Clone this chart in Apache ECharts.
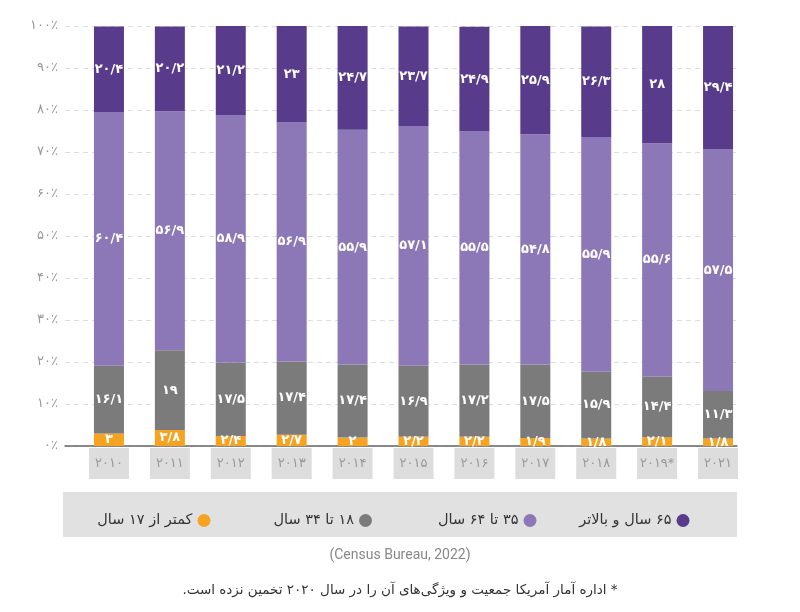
<!DOCTYPE html>
<html>
<head>
<meta charset="utf-8">
<script src="https://cdn.jsdelivr.net/npm/echarts@6/dist/echarts.min.js"></script>
<style>html,body{margin:0;padding:0;background:#fff}#c{width:800px;height:612px}</style>
</head>
<body>
<div id="c"></div>
<script>
var years = ['۲۰۱۰','۲۰۱۱','۲۰۱۲','۲۰۱۳','۲۰۱۴','۲۰۱۵','۲۰۱۶','۲۰۱۷','۲۰۱۸','۲۰۱۹*','۲۰۲۱'];
var seriesNames = ['کمتر از ۱۷ سال','۱۸ تا ۳۴ سال','۳۵ تا ۶۴ سال','۶۵ سال و بالاتر'];
var under17 = [3, 3.8, 2.4, 2.7, 2, 2.2, 2.2, 1.9, 1.8, 2.1, 1.8];
var age18to34 = [16.1, 19, 17.5, 17.4, 17.4, 16.9, 17.2, 17.5, 15.9, 14.4, 11.3];
var age35to64 = [60.4, 56.9, 58.9, 56.9, 55.9, 57.1, 55.5, 54.8, 55.9, 55.6, 57.5];
var age65plus = [20.4, 20.2, 21.2, 23, 24.7, 23.7, 24.9, 25.9, 26.3, 28, 29.4];
var yTicks = [0, 10, 20, 30, 40, 50, 60, 70, 80, 90, 100];
var sourceText = '(Census Bureau, 2022)';
var noteText = '* اداره آمار آمریکا جمعیت و ویژگی‌های آن را در سال ۲۰۲۰ تخمین نزده است.';

var colors = ['#f5a321', '#7b7b7b', '#8c78b6', '#583c8b'];
var FA = '۰۱۲۳۴۵۶۷۸۹';
function toFa(v) {
  return String(v).replace('.', '/').replace(/\d/g, function (d) { return FA[+d]; });
}
var RLM = '\u200F';
var arFont = "'DejaVu Sans', sans-serif";

var dataSets = [under17, age18to34, age35to64, age65plus];
var series = dataSets.map(function (arr, i) {
  return {
    name: seriesNames[i],
    type: 'bar',
    stack: 'total',
    xAxisIndex: 1,
    yAxisIndex: 1,
    barWidth: 30,
    data: arr,
    itemStyle: { color: colors[i] },
    label: {
      show: true,
      position: 'inside',
      color: '#fff',
      fontSize: 13,
      fontWeight: 'bold',
      fontFamily: arFont,
      formatter: function (p) { return toFa(p.value); }
    }
  };
});

var legendRights = [584.5, 423, 258.5, 105.5];
var legends = seriesNames.map(function (n, i) {
  return {
    data: [n],
    right: legendRights[i],
    top: 508,
    align: 'right',
    icon: 'circle',
    itemWidth: 13,
    itemHeight: 13,
    itemGap: 5,
    selectedMode: false,
    textStyle: { color: '#333', fontSize: 14.5, fontFamily: arFont },
    formatter: function (name) { return RLM + name + RLM; }
  };
});

var chart = echarts.init(document.getElementById('c'), null, { renderer: 'canvas' });
chart.setOption({
  animation: false,
  grid: [
    { left: 65, right: 63, top: 26, bottom: 166 },
    { left: 78.5, right: 51.5, top: 26, bottom: 166 }
  ],
  xAxis: [
    { gridIndex: 0, type: 'value', min: 0, max: 1,
      axisLine: { show: true, lineStyle: { color: '#666', width: 1.5 } },
      axisTick: { show: false }, axisLabel: { show: false }, splitLine: { show: false } },
    { gridIndex: 1, type: 'category', data: years,
      axisLine: { show: false }, axisTick: { show: false },
      axisLabel: {
        margin: 2, color: '#999', fontSize: 13, fontFamily: arFont,
        backgroundColor: '#dddddd', width: 40, height: 31, lineHeight: 31, align: 'center'
      } }
  ],
  yAxis: [
    { gridIndex: 0, type: 'value', min: 0, max: 100, interval: 10,
      axisLine: { show: false }, axisTick: { show: false },
      axisLabel: { margin: 7, color: '#999', fontSize: 13, fontFamily: arFont,
        formatter: function (v) { return toFa(v) + '٪'; } },
      splitLine: { show: true, lineStyle: { color: '#ddd', type: [5, 4] } } },
    { gridIndex: 1, type: 'value', min: 0, max: 100, show: false, splitLine: { show: false } }
  ],
  legend: legends,
  graphic: [
    { type: 'rect', left: 63, top: 492, z: -10,
      shape: { width: 674, height: 45 }, style: { fill: '#e1e1e1' } },
    { type: 'text', left: 'center', top: 548,
      style: { text: sourceText, fill: '#888', font: "14px Roboto, sans-serif" } },
    { type: 'text', left: 'center', top: 583,
      style: { text: RLM + noteText + RLM, fill: '#333', font: "13.5px " + arFont } }
  ],
  series: series
});
</script>
</body>
</html>
